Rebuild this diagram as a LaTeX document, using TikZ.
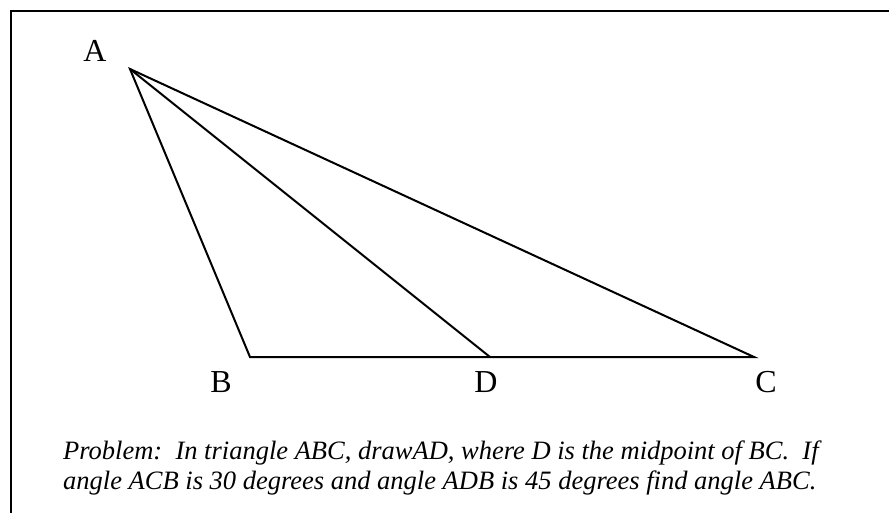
\documentclass[tikz,border=0pt]{standalone}
\usepackage{fontspec}
\setmainfont{Liberation Serif}
\usetikzlibrary{positioning}
\tikzset{
  edge/.style={draw=black, line width=2pt, line join=miter},
  vlabel/.style={inner sep=0pt, anchor=base, font=\fontsize{32}{38}\selectfont},
  probline/.style={inner sep=0pt, anchor=base west, font=\fontsize{26.5}{30}\selectfont\itshape},
  frame/.style={draw=black, line width=2pt}
}

\begin{document}
\begin{tikzpicture}[x=1pt, y=-1pt]
  \useasboundingbox (0,0) rectangle (889,512);
  \draw[frame] (11,11) rectangle (900,530);

  % triangle ABC, D the midpoint of BC
  \coordinate (A) at (130,69);
  \coordinate (B) at (250,357);
  \coordinate (D) at (490,357);
  \coordinate (C) at (754,357);

  \draw[edge] (A) -- (B) -- (C) -- cycle;
  \draw[edge] (A) -- (D);

  \node[vlabel] (la) at (95,61) {A};
  \node[vlabel] (lb) at (221,392) {B};
  \node[vlabel] (ld) at (486,392) {D};
  \node[vlabel] (lc) at (766,392) {C};

  \node[probline] (prob1) at (63,459) {Problem:\ \ In triangle ABC, drawAD, where D is the midpoint of BC.\ \ If};
  \node[probline] (prob2) at (63,489) {angle ACB is 30 degrees and angle ADB is 45 degrees find angle ABC.};
\end{tikzpicture}
\end{document}
